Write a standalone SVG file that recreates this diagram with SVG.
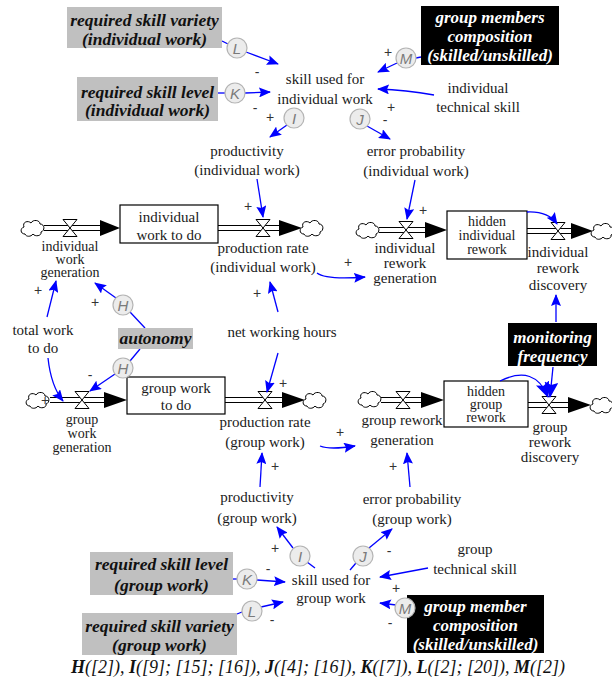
<svg xmlns="http://www.w3.org/2000/svg" width="612" height="681" viewBox="0 0 612 681">
<style>
.t{font-family:"Liberation Serif","Times New Roman",serif;font-size:15px;fill:#1a1a1a;text-anchor:middle}
.ts{font-family:"Liberation Serif","Times New Roman",serif;font-size:14px;fill:#1a1a1a;text-anchor:middle}
.bi{font-family:"Liberation Serif","Times New Roman",serif;font-size:17.5px;font-weight:bold;font-style:italic;text-anchor:middle;fill:#111}
.wbi{font-family:"Liberation Serif","Times New Roman",serif;font-size:17px;font-weight:bold;font-style:italic;text-anchor:middle;fill:#fff}
.gb{fill:#c0c0c0}
.kb{fill:#000}
.stock{fill:#fff;stroke:#000;stroke-width:1.2}
.pipe{stroke:#000;stroke-width:1.1}
.head{fill:#000}
.cloud{fill:#fff;stroke:#000;stroke-width:1}
.valve{fill:#fff;stroke:#000;stroke-width:1}
.cc{fill:#ececec;stroke:#b4b4b4;stroke-width:1.2}
.cl{font-family:"Liberation Sans",Arial,sans-serif;font-size:15px;font-style:italic;fill:#7a7a7a;text-anchor:middle}
.pol{font-family:"Liberation Sans",Arial,sans-serif;font-size:14px;fill:#333;text-anchor:middle}
.cap{font-family:"Liberation Serif","Times New Roman",serif;font-size:18px;font-style:italic;fill:#111;text-anchor:middle}
</style>
<defs>
<marker id="ab" viewBox="0 0 12 10" refX="11" refY="5" markerWidth="12" markerHeight="10" markerUnits="userSpaceOnUse" orient="auto"><path d="M0,0 L12,5 L0,10 L2,5 z" fill="#0000ff"/></marker>
<marker id="abig" viewBox="0 0 16 14" refX="15" refY="7" markerWidth="16" markerHeight="14" markerUnits="userSpaceOnUse" orient="auto"><path d="M0,0 L16,7 L0,14 L3,7 z" fill="#0000ff"/></marker>
<path id="cloud" d="M-8,6 C-13,6 -13,0 -9,-1 C-11,-6 -5,-8 -2,-5 C0,-9 7,-8 7,-4 C12,-4 12,3 8,4 C9,8 2,9 0,6 C-2,9 -7,9 -8,6 Z"/>
<path id="valve" d="M-7,-8.5 L7,-8.5 L0,0 Z M0,0 L7,8.5 L-7,8.5 Z"/>
</defs>

<!-- flows -->
<g id="flow-individual-work-generation">
<use href="#cloud" class="cloud" x="33" y="228"/>
<line class="pipe" x1="44" y1="225.5" x2="101" y2="225.5"/><line class="pipe" x1="44" y1="230.5" x2="101" y2="230.5"/>
<polygon class="head" points="100,220 120,228 100,236"/>
<use href="#valve" class="valve" x="70" y="228"/>
<text class="ts" x="70" y="251">individual</text><text class="ts" x="70" y="264">work</text><text class="ts" x="70" y="277">generation</text>
</g>
<g id="flow-production-rate-individual">
<line class="pipe" x1="218" y1="225.5" x2="280" y2="225.5"/><line class="pipe" x1="218" y1="230.5" x2="280" y2="230.5"/>
<polygon class="head" points="279,220 302,228 279,236"/>
<use href="#cloud" class="cloud" x="312" y="228"/>
<use href="#valve" class="valve" x="263" y="228"/>
<text class="t" x="263" y="253">production rate</text><text class="t" x="263" y="272">(individual work)</text>
</g>
<g id="flow-individual-rework-generation">
<use href="#cloud" class="cloud" x="368" y="230"/>
<line class="pipe" x1="379" y1="227.5" x2="426" y2="227.5"/><line class="pipe" x1="379" y1="232.5" x2="426" y2="232.5"/>
<polygon class="head" points="425,222 447,230 425,238"/>
<use href="#valve" class="valve" x="406" y="230"/>
<text class="t" x="405" y="253">individual</text><text class="t" x="405" y="268">rework</text><text class="t" x="405" y="283">generation</text>
</g>
<g id="flow-individual-rework-discovery">
<line class="pipe" x1="527" y1="228.5" x2="572" y2="228.5"/><line class="pipe" x1="527" y1="233.5" x2="572" y2="233.5"/>
<polygon class="head" points="571,223 593,231 571,239"/>
<use href="#cloud" class="cloud" x="603" y="231"/>
<use href="#valve" class="valve" x="558" y="231"/>
<text class="t" x="558" y="257">individual</text><text class="t" x="558" y="273">rework</text><text class="t" x="558" y="290">discovery</text>
</g>
<g id="flow-group-work-generation">
<use href="#cloud" class="cloud" x="38" y="400"/>
<line class="pipe" x1="50" y1="397.5" x2="105" y2="397.5"/><line class="pipe" x1="50" y1="402.5" x2="105" y2="402.5"/>
<polygon class="head" points="104,392 127,400 104,408"/>
<use href="#valve" class="valve" x="82" y="400"/>
<text class="ts" x="82" y="424">group</text><text class="ts" x="82" y="438">work</text><text class="ts" x="82" y="452">generation</text>
</g>
<g id="flow-production-rate-group">
<line class="pipe" x1="225" y1="397.5" x2="283" y2="397.5"/><line class="pipe" x1="225" y1="402.5" x2="283" y2="402.5"/>
<polygon class="head" points="282,392 305,400 282,408"/>
<use href="#cloud" class="cloud" x="315" y="400"/>
<use href="#valve" class="valve" x="265" y="400"/>
<text class="t" x="265" y="427">production rate</text><text class="t" x="265" y="447">(group work)</text>
</g>
<g id="flow-group-rework-generation">
<use href="#cloud" class="cloud" x="370" y="399"/>
<line class="pipe" x1="381" y1="397.5" x2="422" y2="397.5"/><line class="pipe" x1="381" y1="402.5" x2="422" y2="402.5"/>
<polygon class="head" points="421,392 444,400 421,408"/>
<use href="#valve" class="valve" x="403" y="400"/>
<text class="t" x="402" y="425">group rework</text><text class="t" x="402" y="445">generation</text>
</g>
<g id="flow-group-rework-discovery">
<line class="pipe" x1="528" y1="402.5" x2="569" y2="402.5"/><line class="pipe" x1="528" y1="407.5" x2="569" y2="407.5"/>
<polygon class="head" points="568,397 591,405 568,413"/>
<use href="#cloud" class="cloud" x="602" y="405"/>
<use href="#valve" class="valve" x="549" y="405"/>
<text class="t" x="550" y="432">group</text><text class="t" x="550" y="447">rework</text><text class="t" x="550" y="462">discovery</text>
</g>

<!-- stocks -->
<g id="individual-work-to-do"><rect class="stock" x="120" y="205" width="98" height="38"/><text class="t" x="169" y="222">individual</text><text class="t" x="169" y="240">work to do</text></g>
<g id="hidden-individual-rework"><rect class="stock" x="447" y="211" width="80" height="48"/><text class="ts" x="487" y="226">hidden</text><text class="ts" x="487" y="240">individual</text><text class="ts" x="487" y="254">rework</text></g>
<g id="group-work-to-do"><rect class="stock" x="127" y="377" width="98" height="37"/><text class="t" x="176" y="393">group work</text><text class="t" x="176" y="410">to do</text></g>
<g id="hidden-group-rework"><rect class="stock" x="444" y="381" width="84" height="46"/><text class="ts" x="486" y="396">hidden</text><text class="ts" x="486" y="409">group</text><text class="ts" x="486" y="422">rework</text></g>

<!-- connectors -->
<g id="connectors" fill="none" stroke="#0000ff" stroke-width="1.3">
<path d="M222,41 L228,44"/><path d="M246,52 L278,64" marker-end="url(#ab)"/>
<path d="M218,93 L225,93"/><path d="M245,93 L270,92" marker-end="url(#ab)"/>
<path d="M421,57 L416,58"/><path d="M397,63 L378,72" marker-end="url(#ab)"/>
<path d="M434,95 Q406,90 378,89" marker-end="url(#ab)"/>
<path d="M287,125 L270,137" marker-end="url(#ab)"/>
<path d="M367,126 L390,139" marker-end="url(#ab)"/>
<path d="M257,179 L263,217" marker-end="url(#ab)"/>
<path d="M415,180 L407,219" marker-end="url(#ab)"/>
<path d="M317,273 Q326,280 365,277" marker-end="url(#ab)"/>
<path d="M527,212 Q548,211 557,224" marker-end="url(#ab)"/>
<path d="M556,322 L556,295" marker-end="url(#ab)"/>
<path d="M553,367 L550,397" marker-end="url(#abig)"/>
<path d="M500,381 Q535,364 548,397" marker-end="url(#abig)"/>
<path d="M278,312 L270,282" marker-end="url(#ab)"/>
<path d="M278,353 L267,392" marker-end="url(#ab)"/>
<path d="M47,317 L56,281" marker-end="url(#ab)"/>
<path d="M145,328 L130,312"/><path d="M116,298 L95,283" marker-end="url(#ab)"/>
<path d="M140,349 L130,361"/><path d="M115,374 L90,391" marker-end="url(#ab)"/>
<path d="M48,358 Q51,386 63,401" marker-end="url(#ab)"/>
<path d="M320,446 Q330,450 355,446" marker-end="url(#ab)"/>
<path d="M410,487 L407,453" marker-end="url(#ab)"/>
<path d="M260,487 L262,453" marker-end="url(#ab)"/>
<path d="M315,568 L307,562"/><path d="M293,548 L277,527" marker-end="url(#ab)"/>
<path d="M350,570 L356,563"/><path d="M369,548 L392,529" marker-end="url(#ab)"/>
<path d="M233,579 L237,579"/><path d="M257,580 L285,582" marker-end="url(#ab)"/>
<path d="M237,614 L242,612"/><path d="M261,607 L283,602" marker-end="url(#ab)"/>
<path d="M428,568 L380,577" marker-end="url(#ab)"/>
<path d="M396,605 L380,603" marker-end="url(#ab)"/>
</g>

<!-- variables -->
<g id="required-skill-variety-individual"><rect class="gb" x="67" y="7" width="155" height="41"/><text class="bi" x="144.5" y="26">required skill variety</text><text class="bi" x="144.5" y="45">(individual work)</text></g>
<g id="required-skill-level-individual"><rect class="gb" x="77" y="77" width="141" height="44"/><text class="bi" x="147.5" y="98">required skill level</text><text class="bi" x="147.5" y="116">(individual work)</text></g>
<g id="group-members-composition"><rect class="kb" x="421" y="6" width="138" height="59"/><text class="wbi" x="490" y="23">group members</text><text class="wbi" x="490" y="42">composition</text><text class="wbi" x="490" y="61">(skilled/unskilled)</text></g>
<g id="skill-used-individual"><text class="t" x="325" y="84">skill used for</text><text class="t" x="325" y="104">individual work</text></g>
<g id="individual-technical-skill"><text class="t" x="478" y="93">individual</text><text class="t" x="478" y="112">technical skill</text></g>
<g id="productivity-individual"><text class="t" x="247" y="156">productivity</text><text class="t" x="247" y="175">(individual work)</text></g>
<g id="error-probability-individual"><text class="t" x="416" y="156">error probability</text><text class="t" x="416" y="176">(individual work)</text></g>
<g id="total-work-to-do"><text class="t" x="43" y="335">total work</text><text class="t" x="43" y="353">to do</text></g>
<g id="autonomy"><rect class="gb" x="118" y="328" width="75" height="21"/><text class="bi" x="155.5" y="344">autonomy</text></g>
<g id="net-working-hours"><text class="t" x="282" y="337">net working hours</text></g>
<g id="monitoring-frequency"><rect class="kb" x="508" y="323" width="89" height="43"/><text class="wbi" x="552.5" y="343">monitoring</text><text class="wbi" x="552.5" y="362">frequency</text></g>
<g id="productivity-group"><text class="t" x="257" y="502">productivity</text><text class="t" x="257" y="523">(group work)</text></g>
<g id="error-probability-group"><text class="t" x="412" y="504">error probability</text><text class="t" x="412" y="524">(group work)</text></g>
<g id="skill-used-group"><text class="t" x="331" y="585">skill used for</text><text class="t" x="331" y="603">group work</text></g>
<g id="group-technical-skill"><text class="t" x="475" y="554">group</text><text class="t" x="475" y="574">technical skill</text></g>
<g id="required-skill-level-group"><rect class="gb" x="90" y="552" width="143" height="43"/><text class="bi" x="161.5" y="570">required skill level</text><text class="bi" x="161.5" y="591">(group work)</text></g>
<g id="required-skill-variety-group"><rect class="gb" x="82" y="613" width="155" height="42"/><text class="bi" x="159.5" y="632">required skill variety</text><text class="bi" x="159.5" y="651">(group work)</text></g>
<g id="group-member-composition"><rect class="kb" x="407" y="595" width="137" height="58"/><text class="wbi" x="475.5" y="612">group member</text><text class="wbi" x="475.5" y="631">composition</text><text class="wbi" x="475.5" y="650">(skilled/unskilled)</text></g>

<!-- reference labels -->
<g id="refs">
<circle class="cc" cx="237" cy="48" r="10"/><text class="cl" x="237" y="53.5">L</text>
<circle class="cc" cx="235" cy="93" r="10"/><text class="cl" x="235" y="98.5">K</text>
<circle class="cc" cx="294" cy="118" r="10"/><text class="cl" x="294" y="123.5">I</text>
<circle class="cc" cx="360" cy="119" r="10"/><text class="cl" x="360" y="124.5">J</text>
<circle class="cc" cx="406" cy="58" r="10"/><text class="cl" x="406" y="63.5">M</text>
<circle class="cc" cx="123" cy="305" r="10"/><text class="cl" x="123" y="310.5">H</text>
<circle class="cc" cx="123" cy="368" r="10"/><text class="cl" x="123" y="373.5">H</text>
<circle class="cc" cx="300" cy="556" r="10"/><text class="cl" x="300" y="561.5">I</text>
<circle class="cc" cx="363" cy="556" r="10"/><text class="cl" x="363" y="561.5">J</text>
<circle class="cc" cx="247" cy="579" r="10"/><text class="cl" x="247" y="584.5">K</text>
<circle class="cc" cx="252" cy="611" r="10"/><text class="cl" x="252" y="616.5">L</text>
<circle class="cc" cx="405" cy="608" r="10"/><text class="cl" x="405" y="613.5">M</text>
</g>

<!-- polarities -->
<g id="polarities">
<text class="pol" x="257" y="77">-</text><text class="pol" x="255" y="113">-</text><text class="pol" x="270" y="122">+</text>
<text class="pol" x="388" y="57">+</text><text class="pol" x="391" y="112">+</text><text class="pol" x="385" y="125">-</text>
<text class="pol" x="248" y="211">+</text><text class="pol" x="423" y="215">+</text><text class="pol" x="348" y="267">+</text>
<text class="pol" x="38" y="295">+</text><text class="pol" x="95" y="307">+</text><text class="pol" x="257" y="298">+</text>
<text class="pol" x="90" y="380">-</text><text class="pol" x="45" y="405">+</text><text class="pol" x="283" y="388">+</text>
<text class="pol" x="275" y="471">+</text><text class="pol" x="340" y="437">+</text><text class="pol" x="393" y="471">+</text>
<text class="pol" x="275" y="553">+</text><text class="pol" x="389" y="556">-</text><text class="pol" x="268" y="574">-</text>
<text class="pol" x="272" y="625">-</text><text class="pol" x="396" y="593">+</text><text class="pol" x="390" y="628">-</text>
</g>

<text class="cap" x="318" y="673"><tspan font-weight="bold">H</tspan>([2]), <tspan font-weight="bold">I</tspan>([9]; [15]; [16]), <tspan font-weight="bold">J</tspan>([4]; [16]), <tspan font-weight="bold">K</tspan>([7]), <tspan font-weight="bold">L</tspan>([2]; [20]), <tspan font-weight="bold">M</tspan>([2])</text>
</svg>
